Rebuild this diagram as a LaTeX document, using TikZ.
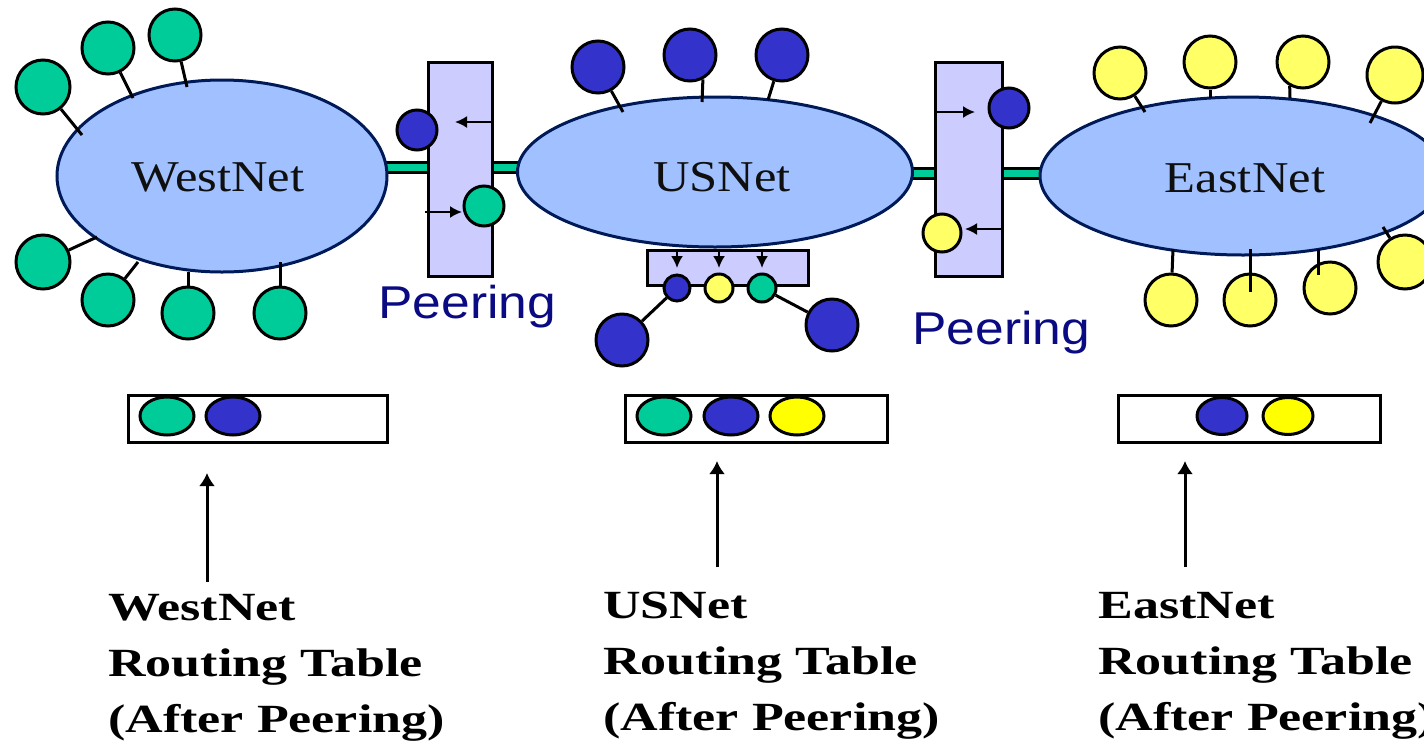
\documentclass[tikz,border=0pt]{standalone}
\usepackage{fontspec}
\setmainfont{Liberation Serif}
\newfontfamily\netfont[FakeStretch=1.15]{Liberation Serif}
\newfontfamily\tabfont[FakeStretch=1.3]{Liberation Serif}
\newfontfamily\peerfont[FakeStretch=1.12]{Liberation Sans}
\usetikzlibrary{shapes.geometric,arrows.meta,calc}

\definecolor{hostteal}{RGB}{0,204,153}
\definecolor{hostblue}{RGB}{51,51,204}
\definecolor{hostyellow}{RGB}{255,255,102}
\definecolor{tabyellow}{RGB}{255,255,0}
\definecolor{netfill}{RGB}{160,192,255}
\definecolor{netedge}{RGB}{0,26,87}
\definecolor{peerfill}{RGB}{204,204,255}
\definecolor{peertext}{RGB}{10,10,130}
\definecolor{nettext}{RGB}{15,15,15}

\tikzset{
  host/.style={circle, draw=black, line width=1.5pt, inner sep=0pt, minimum size=#1},
  host/.default=26pt,
  net/.style={ellipse, draw=netedge, fill=netfill, line width=1.5pt, inner sep=0pt},
  peerbox/.style={rectangle, draw=black, fill=peerfill, line width=1.5pt, inner sep=0pt},
  tablebox/.style={rectangle, draw=black, fill=white, line width=1.5pt, inner sep=0pt},
  entry/.style={ellipse, draw=black, line width=1.5pt, inner sep=0pt,
                minimum width=27pt, minimum height=19pt},
  stub/.style={draw=black, line width=1.5pt},
  link/.style={line width=1.5pt, draw=black, double=hostteal, double distance=3.5pt},
  flow/.style={line width=1pt, -{Latex[length=6pt,width=6pt]}},
  pointer/.style={line width=1.5pt, -{Latex[length=6.5pt,width=8pt]}},
  netlabel/.style={inner sep=0pt, text=nettext, font={\netfont\fontsize{22pt}{26pt}\selectfont}},
  peerlabel/.style={inner sep=0pt, text=peertext, font={\peerfont\fontsize{23pt}{27pt}\selectfont}},
  tablabel/.style={inner sep=0pt, align=left, font={\tabfont\bfseries\fontsize{20pt}{28pt}\selectfont}},
}

\begin{document}
\begin{tikzpicture}[x=0.5pt,y=-0.5pt]
\clip (0,0) rectangle (1424,745);

% trunk links between the networks (drawn first, the clouds cover their ends)
\coordinate (lkA) at (370,167);
\coordinate (lkB) at (540,167);
\coordinate (lkC) at (900,173);
\coordinate (lkD) at (1060,173);
\draw[link] (lkA) -- (lkB);
\draw[link] (lkC) -- (lkD);

% the three networks
\node[net, minimum width=165pt, minimum height=96pt] (wn) at (222,176) {};
\node[net, minimum width=197.5pt, minimum height=75pt] (us) at (715,172) {};
\node[net, minimum width=203pt, minimum height=79pt] (en) at (1243,176) {};
\node[netlabel, anchor=base] (wnl) at (218,191) {WestNet};
\node[netlabel, anchor=base] (usl) at (722,191) {USNet};
\node[netlabel, anchor=base] (enl) at (1245,192) {EastNet};

% peering points
\node[peerbox, minimum width=32pt, minimum height=107pt] (pL) at (460,169) {};
\node[peerbox, minimum width=33.5pt, minimum height=107pt] (pR) at (968.5,169) {};
\node[peerbox, minimum width=80.5pt, minimum height=17.5pt] (bx) at (727.5,267.5) {};
\node[peerlabel, anchor=base west] (pLl) at (378,318) {Peering};
\node[peerlabel, anchor=base west] (pRl) at (912,344) {Peering};

% routes announced across the left peering point
\coordinate (aL1s) at (492,122); \coordinate (aL1t) at (455,122);
\coordinate (aL2s) at (425,212); \coordinate (aL2t) at (462,212);
\draw[flow] (aL1s) -- (aL1t);
\draw[flow] (aL2s) -- (aL2t);
\node[host=20pt, fill=hostblue] (pLb) at (417,130) {};
\node[host=20pt, fill=hostteal] (pLt) at (484,206) {};

% routes announced across the right peering point
\coordinate (aR1s) at (935,112); \coordinate (aR1t) at (975,112);
\coordinate (aR2s) at (1002,229); \coordinate (aR2t) at (965,229);
\draw[flow] (aR1s) -- (aR1t);
\draw[flow] (aR2s) -- (aR2t);
\node[host=20pt, fill=hostblue] (pRb) at (1009,108) {};
\node[host=19pt, fill=hostyellow] (pRy) at (942,233) {};

% routes handed down to the USNet customers
\node[host=13pt, fill=hostblue] (s1) at (677,288) {};
\node[host=14pt, fill=hostyellow] (s2) at (719,288) {};
\node[host=14pt, fill=hostteal] (s3) at (762,288) {};
\draw[flow] (bx.north -| s1) -- ($(s1.center)+(0,-20)$);
\draw[flow] (bx.north -| s2) -- ($(s2.center)+(0,-20)$);
\draw[flow] (bx.north -| s3) -- ($(s3.center)+(0,-20)$);
\node[host, fill=hostblue] (u4) at (622,340) {};
\node[host, fill=hostblue] (u5) at (832,325) {};
\draw[stub] (s1) -- (u4);
\draw[stub] (s3) -- (u5);

% WestNet hosts
\node[host=27pt, fill=hostteal] (w1) at (43,87) {};
\node[host, fill=hostteal] (w2) at (108,48) {};
\node[host, fill=hostteal] (w3) at (175,35) {};
\node[host=27pt, fill=hostteal] (w4) at (43,262) {};
\node[host, fill=hostteal] (w5) at (108,300) {};
\node[host, fill=hostteal] (w6) at (188,313) {};
\node[host, fill=hostteal] (w7) at (280,313) {};
\coordinate (w1s) at (82,135);
\coordinate (w2s) at (133,98);
\coordinate (w3s) at (187,87);
\coordinate (w4s) at (97,237);
\coordinate (w5s) at (138,262);
\coordinate (w6s) at (188,272);
\coordinate (w7s) at (280,262);
\foreach \h in {w1,w2,w3,w4,w5,w6,w7} \draw[stub] (\h) -- (\h s);

% USNet hosts
\node[host, fill=hostblue] (u1) at (598,67) {};
\node[host, fill=hostblue] (u2) at (690,55) {};
\node[host, fill=hostblue] (u3) at (782,55) {};
\coordinate (u1s) at (623,112);
\coordinate (u2s) at (702,102);
\coordinate (u3s) at (768,100);
\draw[stub] (u1) -- (u1s);
\draw[stub] (u2.-62) -- (u2s);
\draw[stub] (u3) -- (u3s);

% EastNet hosts
\node[host, fill=hostyellow] (e1) at (1120,73) {};
\node[host, fill=hostyellow] (e2) at (1210,62) {};
\node[host, fill=hostyellow] (e3) at (1303,62) {};
\node[host=28pt, fill=hostyellow] (e4) at (1395,75) {};
\node[host, fill=hostyellow] (e5) at (1171,300) {};
\node[host, fill=hostyellow] (e6) at (1250,300) {};
\node[host, fill=hostyellow] (e7) at (1330,288) {};
\node[host=27pt, fill=hostyellow] (e8) at (1405,262) {};
\coordinate (e1s) at (1145,112);
\coordinate (e2s) at (1210,98);
\coordinate (e3s) at (1290,98);
\coordinate (e4s) at (1370,123);
\coordinate (e5s) at (1173,249);
\coordinate (e6s) at (1250,249);
\coordinate (e6t) at (1250,292);
\coordinate (e7s) at (1318,249);
\coordinate (e7t) at (1318,275);
\coordinate (e8s) at (1383,227);
\draw[stub] (e1) -- (e1s);
\draw[stub] (e2) -- (e2s);
\draw[stub] (e3.-119) -- (e3s);
\draw[stub] (e4) -- (e4s);
\draw[stub] (e5) -- (e5s);
\draw[stub] (e6s) -- (e6t);
\draw[stub] (e7s) -- (e7t);
\draw[stub] (e8) -- (e8s);

% routing tables after peering
\node[tablebox, minimum width=129.5pt, minimum height=23.5pt] (tW) at (257.5,418.5) {};
\node[tablebox, minimum width=131pt, minimum height=23.5pt] (tU) at (756,418.5) {};
\node[tablebox, minimum width=131pt, minimum height=23.5pt] (tE) at (1249,418.5) {};
\node[entry, fill=hostteal] (tW1) at (167,416) {};
\node[entry, fill=hostblue] (tW2) at (233,416) {};
\node[entry, fill=hostteal] (tU1) at (664,416) {};
\node[entry, fill=hostblue] (tU2) at (731,416) {};
\node[entry, fill=tabyellow] (tU3) at (797,416) {};
\node[entry, fill=hostblue, minimum width=25pt, minimum height=18.5pt] (tE1) at (1222,416) {};
\node[entry, fill=tabyellow, minimum width=25pt, minimum height=18.5pt] (tE2) at (1288,416) {};

% captions and their pointers
\node[tablabel, anchor=north west] (cW) at (108,594) {WestNet\\Routing Table\\(After Peering)};
\node[tablabel, anchor=north west] (cU) at (603,592) {USNet\\Routing Table\\(After Peering)};
\node[tablabel, anchor=north west] (cE) at (1098,592) {EastNet\\Routing Table\\(After Peering)};
\coordinate (pW0) at (207,582); \coordinate (pW1) at (207,473);
\coordinate (pU0) at (717,567); \coordinate (pU1) at (717,461);
\coordinate (pE0) at (1185,567); \coordinate (pE1) at (1185,461);
\draw[pointer] (pW0) -- (pW1);
\draw[pointer] (pU0) -- (pU1);
\draw[pointer] (pE0) -- (pE1);
\end{tikzpicture}
\end{document}
